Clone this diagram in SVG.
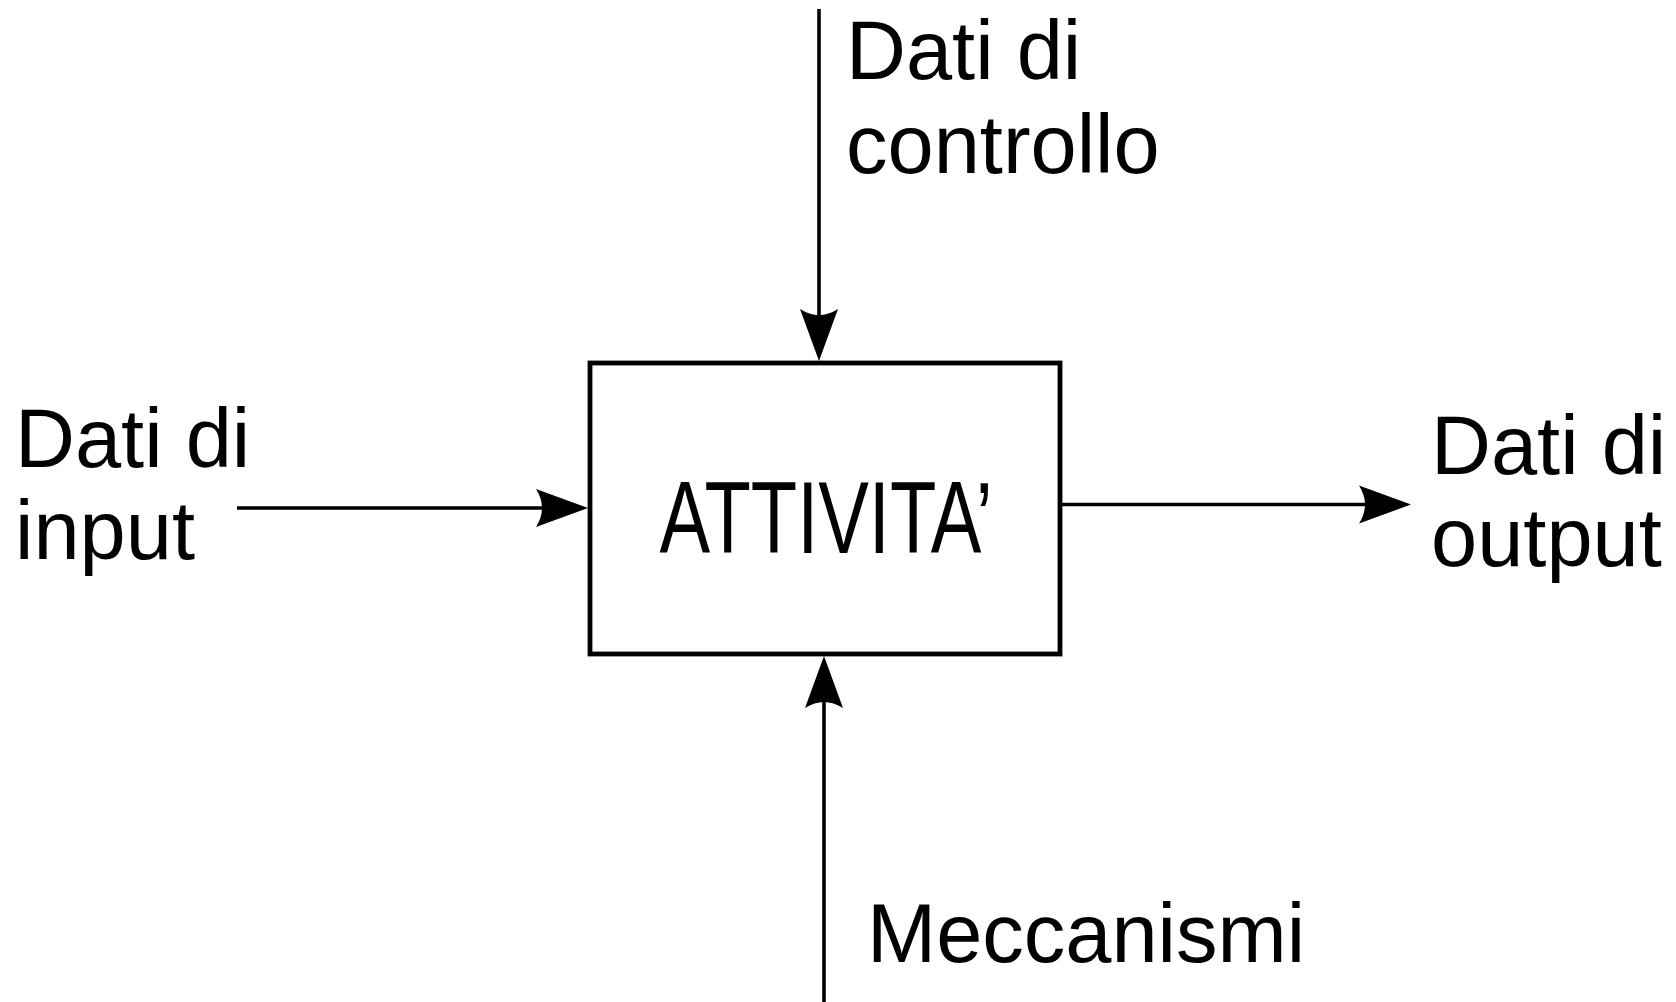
<svg xmlns="http://www.w3.org/2000/svg" width="1676" height="1002" viewBox="0 0 1676 1002">
  <style>
    .lbl { font-family: "Liberation Sans", Arial, sans-serif; font-size: 83px; fill: #000; }
    .main { font-family: "Liberation Sans", Arial, sans-serif; font-size: 102px; fill: #000; }
    .conn { stroke: #000; stroke-width: 3.6; fill: none; marker-end: url(#arrow); }
    .box { fill: #fff; stroke: #000; stroke-width: 4.8; }
  </style>
  <defs>
    <marker id="arrow" markerUnits="userSpaceOnUse" markerWidth="60" markerHeight="40" refX="0" refY="0" orient="auto" overflow="visible">
      <path d="M40,0 L-12,-19 Q0,0 -12,19 Z" fill="#000"/>
    </marker>
  </defs>
  <rect width="1676" height="1002" fill="#fff"/>
  <g id="connectors">
    <line class="conn" x1="819" y1="9" x2="819" y2="321"/>
    <line class="conn" x1="824" y1="1002" x2="824" y2="696"/>
    <line class="conn" x1="237" y1="508" x2="548" y2="508"/>
    <line class="conn" x1="1062" y1="504.5" x2="1371" y2="504.5"/>
  </g>
  <g id="attivita">
    <rect class="box" x="590" y="363" width="470" height="291"/>
    <text class="main" x="659.5" y="552.5" textLength="333" lengthAdjust="spacingAndGlyphs">ATTIVITA’</text>
  </g>
  <g id="dati-controllo">
    <text class="lbl" x="846" y="79">Dati di</text>
    <text class="lbl" x="846" y="173">controllo</text>
  </g>
  <g id="dati-input">
    <text class="lbl" x="15" y="467">Dati di</text>
    <text class="lbl" x="15" y="559">input</text>
  </g>
  <g id="dati-output">
    <text class="lbl" x="1431" y="474">Dati di</text>
    <text class="lbl" x="1431" y="566">output</text>
  </g>
  <g id="meccanismi">
    <text class="lbl" x="867" y="962">Meccanismi</text>
  </g>
</svg>
